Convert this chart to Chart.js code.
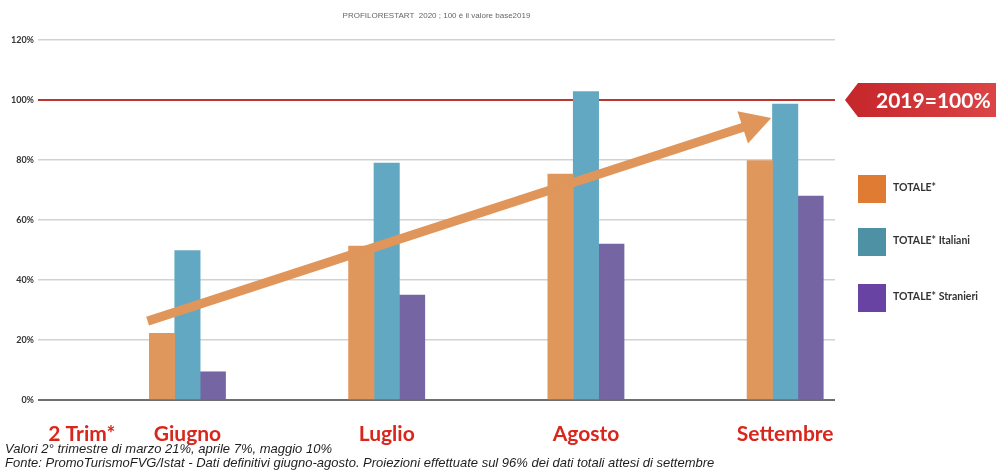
<!DOCTYPE html>
<html>
<head>
<meta charset="utf-8">
<script src="https://cdn.jsdelivr.net/npm/chart.js@4.4.1/dist/chart.umd.min.js"></script>
<style>
  html, body { margin: 0; padding: 0; background: #fff; }
</style>
</head>
<body>
<canvas id="chart" width="996" height="472"></canvas>
<script>
// values in % of the same month 2019
const monthPos = [1, 2, 3, 4];               // Giugno .. Settembre on the x scale
const totale = [22.2, 51.3, 75.3, 79.8];
const italiani = [49.8, 79.0, 102.8, 98.6];
const stranieri = [9.4, 35.0, 52.0, 68.0];

const tickPos = [0.47, 1, 2, 3, 4];
const tickLabels = ['2 Trim*', 'Giugno', 'Luglio', 'Agosto', 'Settembre'];

const seriesNames = ['TOTALE*', 'TOTALE* Italiani', 'TOTALE* Stranieri'];
const trendArrow = [{ x: 0.80, y: 26.3 }, { x: 3.93, y: 94.0 }];

const barColors = ['#df975c', '#63a8c2', '#7565a3'];
const legendColors = ['#e07b34', '#4e90a4', '#6843a3'];

const toPoints = vals => vals.map((v, i) => ({ x: monthPos[i], y: v }));

// thick orange trend arrow over the bars
const arrowPlugin = {
    id: 'trendArrow',
    afterDatasetsDraw(chart) {
        const { ctx, scales: { x, y } } = chart;
        const x0 = x.getPixelForValue(trendArrow[0].x), y0 = y.getPixelForValue(trendArrow[0].y);
        const x1 = x.getPixelForValue(trendArrow[1].x), y1 = y.getPixelForValue(trendArrow[1].y);
        const ang = Math.atan2(y1 - y0, x1 - x0);
        const headLen = 30, headHalf = 17;
        const bx = x1 - headLen * Math.cos(ang), by = y1 - headLen * Math.sin(ang);
        ctx.save();
        ctx.strokeStyle = '#e0965a';
        ctx.fillStyle = '#e0965a';
        ctx.lineWidth = 9;
        ctx.beginPath();
        ctx.moveTo(x0, y0);
        ctx.lineTo(bx + 2 * Math.cos(ang), by + 2 * Math.sin(ang));
        ctx.stroke();
        ctx.beginPath();
        ctx.moveTo(x1, y1);
        ctx.lineTo(bx + headHalf * Math.sin(ang), by - headHalf * Math.cos(ang));
        ctx.lineTo(bx - headHalf * Math.sin(ang), by + headHalf * Math.cos(ang));
        ctx.closePath();
        ctx.fill();
        ctx.restore();
    }
};

// red "2019=100%" tag, legend on the right and the notes under the axis
const extrasPlugin = {
    id: 'extras',
    afterDraw(chart) {
        const { ctx, chartArea, scales: { y } } = chart;
        const yy = y.getPixelForValue(100);
        const tipX = chartArea.right + 10, bodyX = tipX + 13, h = 17;
        ctx.save();
        const g = ctx.createLinearGradient(tipX, 0, chart.width, 0);
        g.addColorStop(0, '#c4262a');
        g.addColorStop(1, '#dc4446');
        ctx.fillStyle = g;
        ctx.beginPath();
        ctx.moveTo(tipX, yy);
        ctx.lineTo(bodyX, yy - h);
        ctx.lineTo(chart.width, yy - h);
        ctx.lineTo(chart.width, yy + h);
        ctx.lineTo(bodyX, yy + h);
        ctx.closePath();
        ctx.fill();
        ctx.fillStyle = '#ffffff';
        ctx.font = 'bold 21px Lato';
        ctx.textBaseline = 'middle';
        ctx.fillText('2019=100%', bodyX + 18, yy + 1);

        // legend
        const lx = 858, box = 28, tops = [175, 228, 284];
        ctx.font = 'bold 10.5px Lato';
        seriesNames.forEach((name, i) => {
            ctx.fillStyle = legendColors[i];
            ctx.fillRect(lx, tops[i], box, box);
            ctx.fillStyle = '#333333';
            ctx.fillText(name, lx + box + 7, tops[i] + box / 2 - 1);
        });

        // notes
        ctx.fillStyle = '#1e1e1e';
        ctx.font = 'italic 13px "Liberation Sans"';
        ctx.textBaseline = 'alphabetic';
        ctx.fillText('Valori 2° trimestre di marzo 21%, aprile 7%, maggio 10%', 5, 453);
        ctx.fillText('Fonte: PromoTurismoFVG/Istat - Dati definitivi giugno-agosto. Proiezioni effettuate sul 96% dei dati totali attesi di settembre', 5, 467);
        ctx.restore();
    }
};

new Chart(document.getElementById('chart'), {
    type: 'bar',
    data: {
        datasets: [
            { label: seriesNames[0], data: toPoints(totale), backgroundColor: barColors[0] },
            { label: seriesNames[1], data: toPoints(italiani), backgroundColor: barColors[1] },
            { label: seriesNames[2], data: toPoints(stranieri), backgroundColor: barColors[2] }
        ]
    },
    options: {
        responsive: false,
        animation: false,
        barThickness: 25.4,
        layout: { padding: { left: 0, right: 161, top: 0, bottom: 0 } },
        plugins: {
            legend: { display: false },
            tooltip: { enabled: false },
            title: {
                display: true,
                fullSize: false,
                text: 'PROFILORESTART  2020 ; 100 è il valore base2019',
                color: '#666666',
                font: { family: 'Liberation Sans', size: 8, weight: 'normal' },
                padding: { top: 11, bottom: 19.4 }
            }
        },
        scales: {
            x: {
                type: 'linear',
                min: 0.25,
                max: 4.25,
                offset: false,
                afterBuildTicks: s => { s.ticks = tickPos.map(v => ({ value: v })); },
                afterFit: s => { s.height = 72; },
                grid: { display: false },
                border: { display: false },
                ticks: {
                    autoSkip: false,
                    maxRotation: 0,
                    padding: 14,
                    color: '#d9261c',
                    font: { family: 'Lato', size: 21, weight: 'bold' },
                    callback: (v, i) => tickLabels[i]
                }
            },
            y: {
                min: 0,
                max: 120,
                afterFit: s => { s.width = 38; },
                border: { display: false },
                grid: {
                    drawTicks: false,
                    color: c => c.tick.value === 100 ? '#b8362e' : (c.tick.value === 0 ? '#6e6e6e' : '#d2d2d2'),
                    lineWidth: c => (c.tick.value === 100 || c.tick.value === 0) ? 2 : 1.5
                },
                ticks: {
                    stepSize: 20,
                    padding: 4,
                    color: '#333333',
                    font: { family: 'Lato', size: 9, weight: 'bold' },
                    callback: v => v + '%'
                }
            }
        }
    },
    plugins: [arrowPlugin, extrasPlugin]
});
</script>
</body>
</html>
